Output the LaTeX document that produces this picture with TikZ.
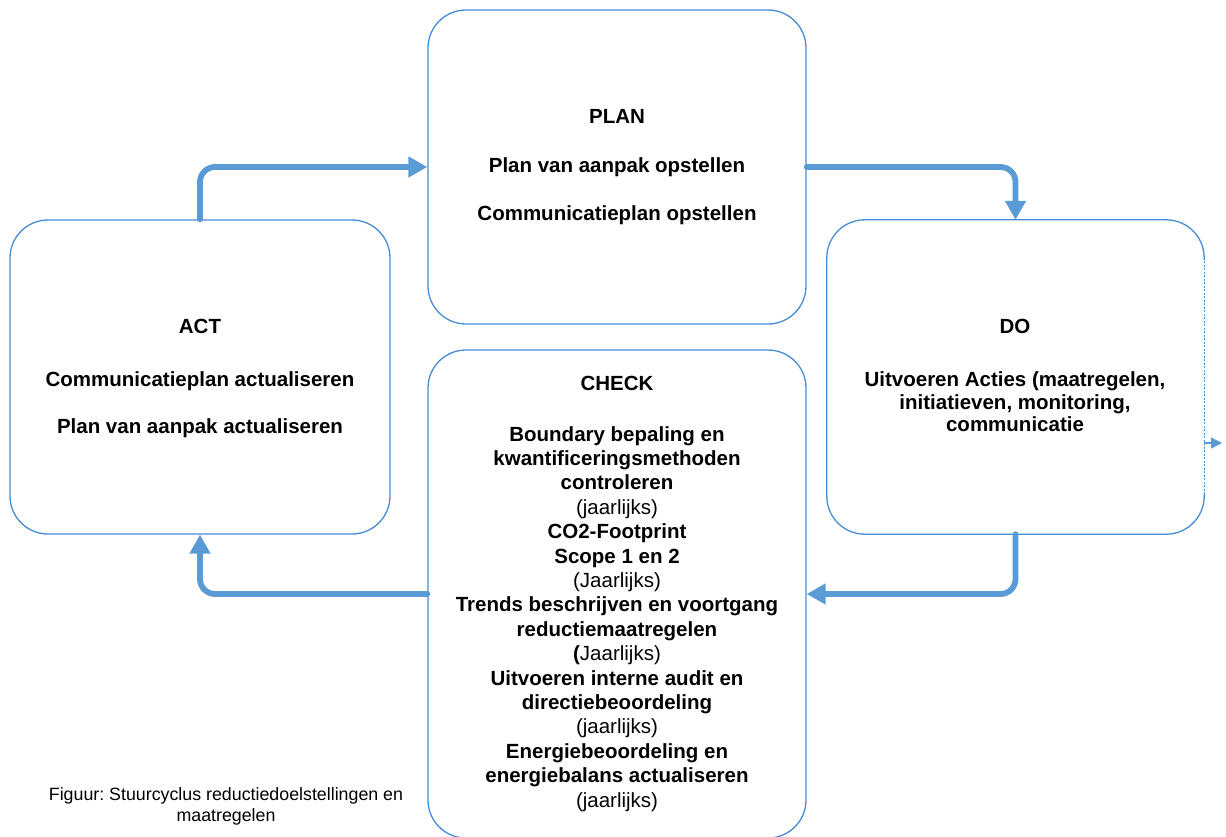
\documentclass[tikz,border=0pt]{standalone}
\usepackage{fontspec}
\setmainfont{Liberation Sans}
\usetikzlibrary{arrows.meta,calc}
\definecolor{boxblue}{RGB}{70,140,210}
\definecolor{flowblue}{RGB}{91,155,213}
\tikzset{
  boxstyle/.style={rectangle, rounded corners=38pt, inner sep=0pt},
  boxline/.style={draw=boxblue, line width=1.3pt},
  txt/.style={anchor=base, inner sep=0pt, font=\bfseries\fontsize{20.5}{24.4}\selectfont},
  captxt/.style={anchor=base, inner sep=0pt, font=\fontsize{17.8}{21}\selectfont},
  flow/.style={draw=flowblue, line width=5.8pt, rounded corners=15pt, line cap=round,
     -{Triangle[length=19pt,width=20pt]}},
  thinflow/.style={draw=flowblue, line width=1.4pt, -{Triangle[length=11pt,width=11pt]}},
}
\frenchspacing
\begin{document}
\frenchspacing
\begin{tikzpicture}[x=1pt,y=-1pt]
\useasboundingbox (0,0) rectangle (1226,836);
\clip (0,0) rectangle (1226,836);
% boxes
\node[boxstyle, boxline, minimum width=378pt, minimum height=314pt] (PLAN) at (617,167) {};
\node[boxstyle, boxline, minimum width=380pt, minimum height=314pt] (ACT) at (200,377) {};
\node[boxstyle, minimum width=377pt, minimum height=314pt] (DO) at (1015.5,377) {};
\node[boxstyle, boxline, minimum width=378pt, minimum height=488pt] (CHECK) at (617,594) {};
\draw[boxline, rounded corners=38pt] ($(DO.north east)+(0,40)$) -- (DO.north east) -- (DO.north west) -- (DO.south west) -- (DO.south east) -- ($(DO.south east)+(0,-40)$);
\draw[boxline, dash pattern=on 2pt off 1.5pt] ($(DO.north east)+(0,38)$) -- ($(DO.south east)+(0,-38)$);
% texts PLAN
\node[txt] (planT) at (617,123) {PLAN};
\node[txt] (plan1) at (617,172) {Plan van aanpak opstellen};
\node[txt] (plan2) at (617,220) {Communicatieplan opstellen};
% ACT
\node[txt] (actT) at (200,333) {ACT};
\node[txt] (act1) at (200,386) {Communicatieplan actualiseren};
\node[txt] (act2) at (200,433) {Plan van aanpak actualiseren};
% DO
\node[txt] (doT) at (1015,333) {DO};
\node[txt] (do1) at (1015,386) {Uitvoeren Acties (maatregelen,};
\node[txt] (do2) at (1015,409) {initiatieven, monitoring,};
\node[txt] (do3) at (1015,431) {communicatie};
% CHECK
\node[txt] (chkT) at (617,390) {CHECK};
\foreach [count=\k] \t in {{Boundary bepaling en},{kwantificeringsmethoden},{controleren},{\mdseries (jaarlijks)},{CO2-Footprint},{Scope 1 en 2},{\mdseries (Jaarlijks)},{Trends beschrijven en voortgang},{reductiemaatregelen},{(\mdseries Jaarlijks)},{Uitvoeren interne audit en},{directiebeoordeling},{\mdseries (jaarlijks)},{Energiebeoordeling en},{energiebalans actualiseren},{\mdseries (jaarlijks)}}
  \node[txt] (chk\k) at (617,{441+24.4*(\k-1)}) {\t};
% caption
\node[captxt] (cap1) at (226,800) {Figuur: Stuurcyclus reductiedoelstellingen en};
\node[captxt] (cap2) at (226,821) {maatregelen};
% connectors
\draw[flow] (ACT.north) |- (PLAN.west);
\draw[flow] (PLAN.east) -| (DO.north);
\draw[flow] (DO.south) |- (CHECK.east);
\draw[flow] (CHECK.west) -| (ACT.south);
\coordinate (ext) at (1222,443);
\draw[thinflow] (DO.east |- ext) -- (ext);
\end{tikzpicture}
\end{document}
